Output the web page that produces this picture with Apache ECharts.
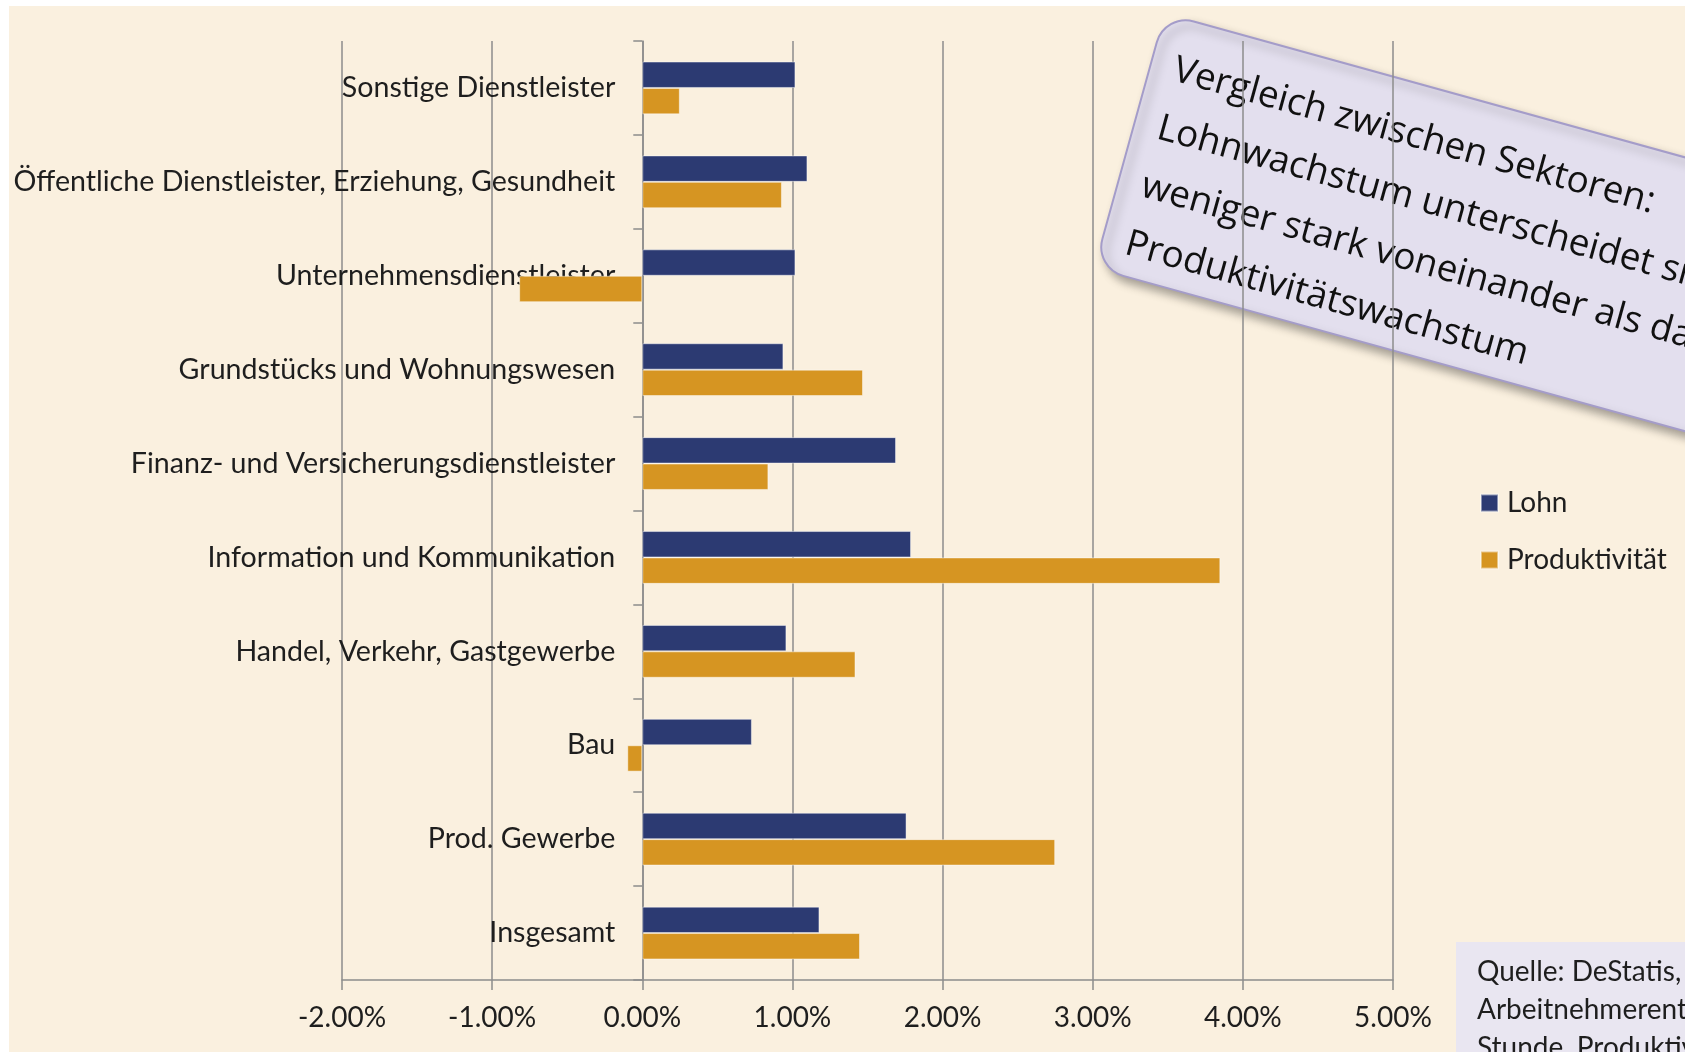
<!DOCTYPE html>
<html>
<head>
<meta charset="utf-8">
<script src="https://cdn.jsdelivr.net/npm/echarts@6/dist/echarts.min.js"></script>
<style>
  html, body { margin: 0; padding: 0; background: #ffffff; }
  #chart { width: 1685px; height: 1052px; }
</style>
</head>
<body>
<div id="chart"></div>
<script>
// Sektoren von oben nach unten
var categories = [
    'Sonstige Dienstleister',
    'Öffentliche Dienstleister, Erziehung, Gesundheit',
    'Unternehmensdienstleister',
    'Grundstücks und Wohnungswesen',
    'Finanz- und Versicherungsdienstleister',
    'Information und Kommunikation',
    'Handel, Verkehr, Gastgewerbe',
    'Bau',
    'Prod. Gewerbe',
    'Insgesamt'
];
// Wachstum in %
var lohn = [1.02, 1.10, 1.02, 0.94, 1.69, 1.79, 0.96, 0.73, 1.76, 1.18];
var produktivitaet = [0.25, 0.93, -0.82, 1.47, 0.84, 3.85, 1.42, -0.10, 2.75, 1.45];
var xMin = -2, xMax = 5, xStep = 1;

var seriesNames = ['Lohn', 'Produktivität'];
var calloutLines = [
    'Vergleich zwischen Sektoren:',
    'Lohnwachstum unterscheidet sich',
    'weniger stark voneinander als das',
    'Produktivitätswachstum'
];
var sourceLines = [
    'Quelle: DeStatis,',
    'Arbeitnehmerentgelt je',
    'Stunde, Produktivität je'
];

(function(){
    var gridColor = '#8c8c8c';
    var textColor = '#1e1e1e';
    var font = 'Lato';
    var gridLeft = 342, gridRight = 292;
    // Kategorie-Achse sitzt bei 0 %, Labels wandern mit
    var plotWidth = 1685 - gridLeft - gridRight;
    var zeroShift = (0 - xMin) / (xMax - xMin) * plotWidth;

    var chart = echarts.init(document.getElementById('chart'));
    chart.setOption({
        animation: false,
        backgroundColor: '#ffffff',
        grid: {
            left: gridLeft, right: gridRight, top: 41, bottom: 72,
            containLabel: false, outerBoundsMode: 'none'
        },
        legend: {
            orient: 'vertical',
            left: 1475,
            top: 484,
            itemWidth: 17,
            itemHeight: 17,
            itemGap: 29,
            icon: 'rect',
            data: seriesNames,
            textStyle: { fontSize: 28, fontFamily: font, color: textColor, padding: [0, 0, 0, 4] }
        },
        xAxis: {
            type: 'value',
            min: xMin,
            max: xMax,
            interval: xStep,
            axisLine: { show: true, lineStyle: { color: gridColor, width: 1.5 } },
            axisTick: { show: true, length: 10, lineStyle: { color: gridColor, width: 1.5 } },
            splitLine: { show: true, lineStyle: { color: gridColor, width: 1.5 } },
            axisLabel: {
                fontSize: 28, fontFamily: font, color: textColor, margin: 24,
                formatter: function(v){ return v.toFixed(2) + '%'; }
            }
        },
        yAxis: {
            type: 'category',
            inverse: true,
            data: categories,
            offset: -zeroShift,
            axisLine: { show: true, onZero: false, lineStyle: { color: gridColor, width: 1.5 } },
            axisTick: { show: true, length: 9, lineStyle: { color: gridColor, width: 1.5 } },
            axisLabel: { interval: 0, fontSize: 28.6, fontFamily: font, color: textColor, margin: 27 }
        },
        series: [
            {
                name: seriesNames[0], type: 'bar', data: lohn,
                barWidth: 26.4, barGap: '0%',
                itemStyle: { color: '#2c3a72', borderColor: 'rgba(255,255,255,0.45)', borderWidth: 1 }
            },
            {
                name: seriesNames[1], type: 'bar', data: produktivitaet,
                barWidth: 26.4, barGap: '0%',
                itemStyle: { color: '#d69522', borderColor: 'rgba(255,255,255,0.45)', borderWidth: 1 }
            }
        ],
        graphic: [
            {
                type: 'rect', z: -10, silent: true,
                shape: { x: 9, y: 6, width: 1676, height: 1046 },
                style: { fill: '#faf0df' }
            },
            // Hinweis-Kasten, gedreht
            {
                type: 'group', x: 1438, y: 226, rotation: -0.27, z: 100,
                children: [
                    {
                        type: 'rect',
                        shape: { x: -320, y: -132, width: 640, height: 264, r: 30 },
                        style: {
                            fill: '#e3dfee', stroke: '#a49cc9', lineWidth: 2,
                            shadowBlur: 10, shadowOffsetX: 5, shadowOffsetY: 6,
                            shadowColor: 'rgba(0,0,0,0.35)'
                        }
                    },
                    {
                        type: 'text', x: -296, y: -110,
                        style: {
                            text: calloutLines.join('\n'),
                            fontSize: 37, fontFamily: 'Open Sans',
                            fill: '#111111', lineHeight: 60
                        }
                    }
                ]
            },
            {
                type: 'rect', z: 100,
                shape: { x: 1456, y: 942, width: 260, height: 140 },
                style: { fill: '#e9e6f1' }
            },
            {
                type: 'text', z: 101, x: 1477, y: 953,
                style: {
                    text: sourceLines.join('\n'),
                    fontSize: 28, fontFamily: font, fill: textColor, lineHeight: 38
                }
            }
        ]
    });
})();
</script>
</body>
</html>
